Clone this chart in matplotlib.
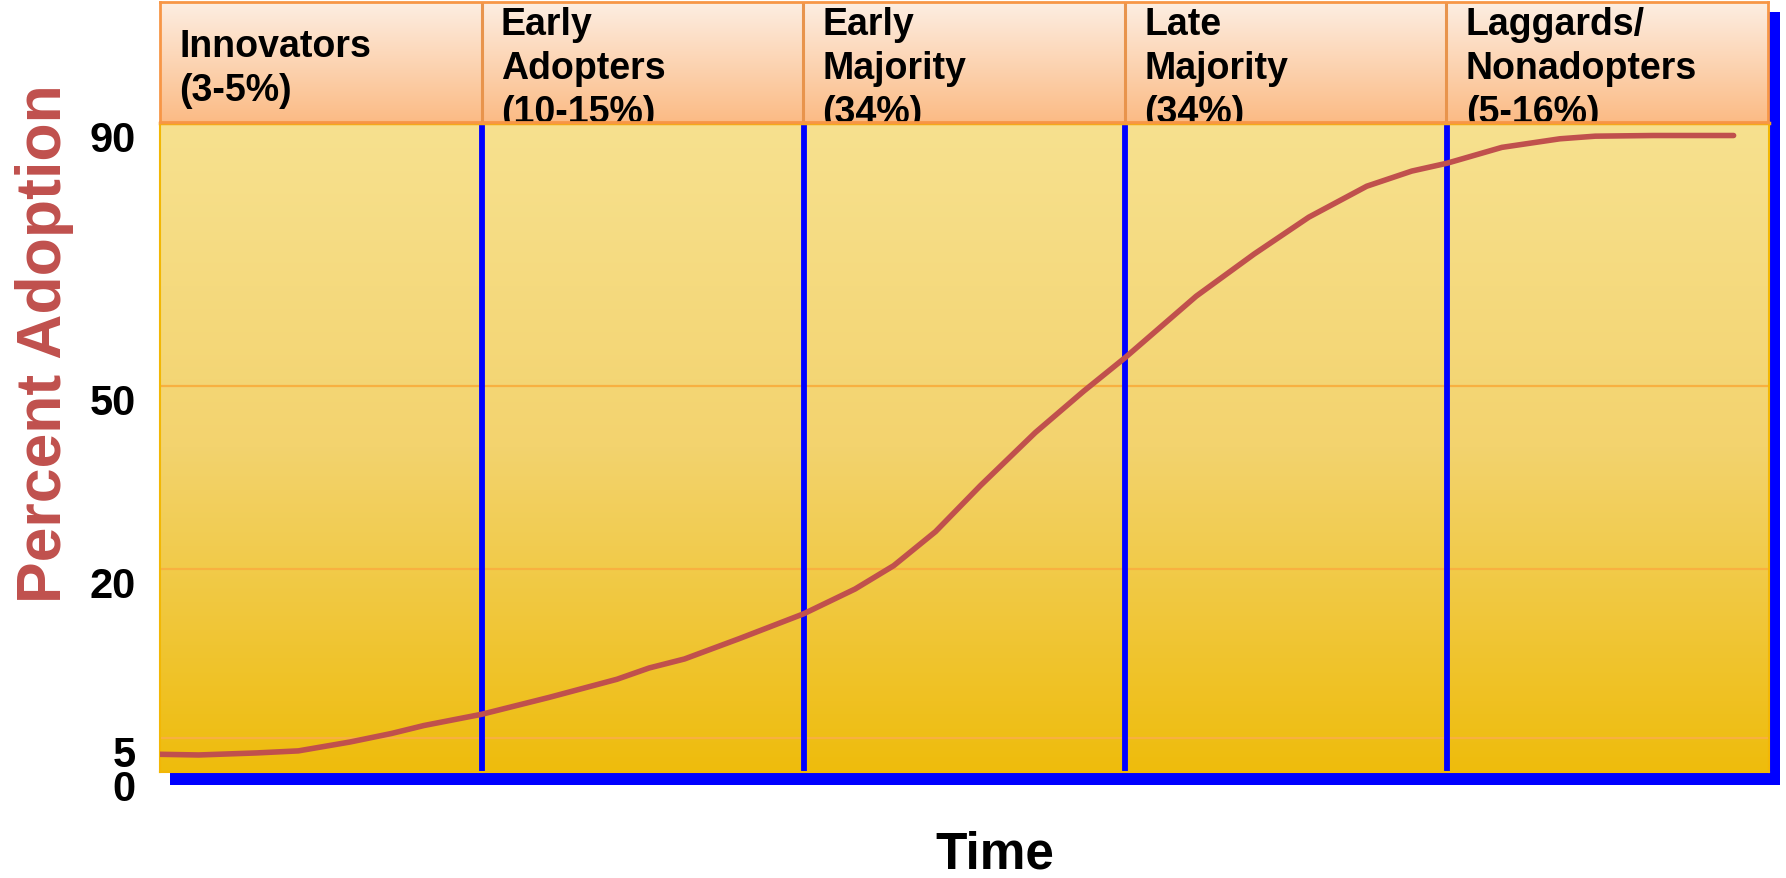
import numpy as np
import matplotlib
matplotlib.use("Agg")
import matplotlib.pyplot as plt
import matplotlib.transforms as mtransforms
from matplotlib.colors import LinearSegmentedColormap
from matplotlib.patches import Rectangle

plt.rcParams['font.family'] = ['Liberation Sans', 'DejaVu Sans']
plt.rcParams['font.weight'] = 'bold'

# adopter categories (one column each along the time axis)
categories = ["Innovators\n(3-5%)", "Early\nAdopters\n(10-15%)", "Early\nMajority\n(34%)",
              "Late\nMajority\n(34%)", "Laggards/\nNonadopters\n(5-16%)"]

# y axis labels (the axis is drawn unevenly, as in the slide)
ytick_values = [0, 5, 20, 50, 90]
ytick_height = [0, 34, 203, 385, 648]   # drawn height of each label above the base
grid_values = [5, 20, 50]

# adoption curve (time in category widths, percent)
time = [0.0, 0.12, 0.30, 0.43, 0.59, 0.72, 0.82, 1.00, 1.21, 1.42, 1.52, 1.63, 1.80,
        2.00, 2.16, 2.28, 2.41, 2.55, 2.72, 2.87, 3.00, 3.22, 3.40, 3.57, 3.75, 3.89,
        4.00, 4.17, 4.35, 4.46, 4.64, 4.89]
adoption = [2.6, 2.5, 2.8, 3.1, 4.4, 5.4, 6.1, 7.1, 8.6, 10.2, 11.2, 12.0, 13.8,
            16.0, 18.2, 20.5, 26.1, 33.7, 42.4, 49.2, 54.4, 63.7, 70.1, 75.7, 80.4, 82.7,
            83.9, 86.3, 87.6, 88.0, 88.1, 88.1]

W, H = 1786, 879
fig = plt.figure(figsize=(W / 100, H / 100), dpi=100)

def fx(px):
    return px / W

def fy(py):
    return 1 - py / H

# blue drop shadow behind header + plot
shadow = Rectangle((fx(170), fy(786)), fx(1780) - fx(170), fy(13) - fy(786),
                   transform=fig.transFigure, facecolor='#0000FF', edgecolor='none', zorder=-1)
fig.patches.append(shadow)

# main plot area
ax = fig.add_axes([fx(160), fy(773), fx(1769) - fx(160), fy(124) - fy(773)])
yellow = LinearSegmentedColormap.from_list('yel', ['#EEBC0C', '#F3D36E', '#F7E18F'])
grad = np.linspace(0, 1, 256).reshape(-1, 1)
ax.imshow(grad, extent=[0, 1, 0, 1], transform=ax.transAxes, aspect='auto',
          cmap=yellow, origin='lower', zorder=0)

fwd = lambda v: np.interp(v, ytick_values, ytick_height)
inv = lambda p: np.interp(p, ytick_height, ytick_values)
ax.set_yscale('function', functions=(fwd, inv))
ax.set_xlim(0, 5)
ax.set_ylim(0, 90)

for v in grid_values:
    ax.axhline(v, color='#F8B040', lw=1.6, zorder=1)
for i in range(1, len(categories)):
    ax.axvline(i, color='#0000FF', lw=4.2, zorder=2)

ax.plot(time, adoption, color='#C0504D', lw=4.0, solid_capstyle='round',
        solid_joinstyle='round', zorder=3)

ax.set_xticks([])
ax.set_yticks([])
for s in ax.spines.values():
    s.set_color('#F2B705')
    s.set_linewidth(1.5)
ax.spines['top'].set_color('#F5A81C')
ax.spines['top'].set_linewidth(2.5)

# tick labels sit a little below their lines, like in the original
off = mtransforms.ScaledTranslation(-0.24, -0.17, fig.dpi_scale_trans)
for v in ytick_values:
    ax.text(0, v, str(v), transform=ax.get_yaxis_transform() + off,
            ha='right', va='center', fontsize=30, fontweight='bold', clip_on=False)

# header row
hx = fig.add_axes([fx(160), fy(123), fx(1768) - fx(160), fy(3) - fy(123)])
peach = LinearSegmentedColormap.from_list('peach', ['#FBBB85', '#FDEEE2'])
hx.imshow(grad, extent=[0, 5, 0, 1], aspect='auto', cmap=peach, origin='lower', zorder=0)
hx.set_xlim(0, 5)
hx.set_ylim(0, 1)
hx.set_xticks([])
hx.set_yticks([])
for s in hx.spines.values():
    s.set_color('#F79646')
    s.set_linewidth(2)
for i in range(1, len(categories)):
    hx.axvline(i, color='#E8944C', lw=2.2, zorder=1)
for i, name in enumerate(categories):
    hx.text(i + 0.06, 0.45, name, ha='left', va='center', fontsize=27,
            fontweight='bold', linespacing=1.3, clip_on=True, zorder=2)

fig.text(fx(45), fy(344), "Percent Adoption", rotation=90, ha='center', va='center',
         fontsize=45, fontweight='bold', color='#C0504D')
fig.text(fx(995), fy(869), "Time", ha='center', va='baseline', fontsize=37,
         fontweight='bold')

fig.savefig('out.png', dpi=100, facecolor='white')
